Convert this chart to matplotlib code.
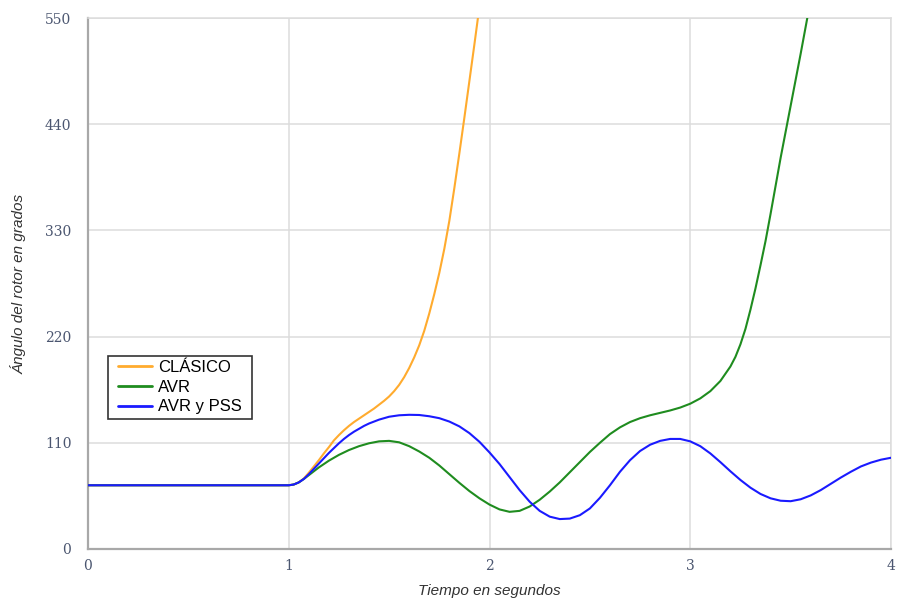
import matplotlib
matplotlib.use("Agg")
import matplotlib.pyplot as plt
from matplotlib.patches import Rectangle

# Rotor angle response (degrees) after a fault at t = 1 s
t_clasico = [0.0, 1.0, 1.025, 1.05, 1.075, 1.10, 1.125, 1.15, 1.175, 1.20,
             1.225, 1.25, 1.275, 1.30, 1.325, 1.35, 1.375, 1.40, 1.425, 1.45,
             1.475, 1.50, 1.525, 1.55, 1.575, 1.60, 1.625, 1.65, 1.675, 1.70,
             1.725, 1.75, 1.775, 1.80, 1.825, 1.85, 1.875, 1.90, 1.925, 1.95]
ang_clasico = [66, 66, 66.8, 69, 73, 79, 85.5, 92, 99, 105.5,
               112.5, 118, 123, 127.5, 131.5, 135, 138.5, 142, 145.5, 149.5,
               153.5, 158, 163.5, 170, 178, 187.5, 198.5, 211, 226, 244,
               264, 286, 311, 340, 374, 410, 447, 485, 523, 562]

t_avr = [0.0, 1.0, 1.025, 1.05, 1.075, 1.10, 1.125, 1.15, 1.175, 1.20,
         1.25, 1.30, 1.35, 1.40, 1.45, 1.50, 1.55, 1.60, 1.65, 1.70,
         1.75, 1.80, 1.85, 1.90, 1.95, 2.00, 2.05, 2.10, 2.15, 2.20,
         2.25, 2.30, 2.35, 2.40, 2.45, 2.50, 2.55, 2.60, 2.65, 2.70,
         2.75, 2.80, 2.85, 2.90, 2.95, 3.00, 3.05, 3.10, 3.15, 3.20,
         3.225, 3.25, 3.275, 3.30, 3.325, 3.35, 3.375, 3.40, 3.425, 3.45,
         3.475, 3.50, 3.525, 3.55, 3.575, 3.60]
ang_avr = [66, 66, 66.8, 69, 72.5, 76.5, 80.5, 84.5, 88, 91.5,
           97.5, 102.5, 106.5, 109.5, 111.5, 112, 110.5, 106.5, 101, 94.5,
           86.5, 77.5, 68.5, 60, 52.5, 46, 41, 38.5, 39.5, 44,
           51, 59.5, 69, 79.5, 90, 100.5, 110, 119, 126, 131.5,
           135.5, 138.5, 141, 143.5, 146.5, 150.5, 156, 163.5, 174, 189,
           199, 212, 228, 248, 270, 294, 319, 347, 376, 405,
           432, 459, 486, 513, 541, 569]

t_pss = [0.0, 1.0, 1.025, 1.05, 1.075, 1.10, 1.125, 1.15, 1.175, 1.20,
         1.225, 1.25, 1.275, 1.30, 1.325, 1.35, 1.375, 1.40, 1.45, 1.50,
         1.55, 1.60, 1.65, 1.70, 1.75, 1.80, 1.85, 1.90, 1.95, 2.00,
         2.05, 2.10, 2.15, 2.20, 2.25, 2.30, 2.35, 2.40, 2.45, 2.50,
         2.55, 2.60, 2.65, 2.70, 2.75, 2.80, 2.85, 2.90, 2.95, 3.00,
         3.05, 3.10, 3.15, 3.20, 3.25, 3.30, 3.35, 3.40, 3.45, 3.50,
         3.55, 3.60, 3.65, 3.70, 3.75, 3.80, 3.85, 3.90, 3.95, 4.00]
ang_pss = [66, 66, 66.8, 69, 72.5, 77.5, 83, 88.5, 94, 99.5,
           104.5, 109.5, 114, 118, 121.5, 124.5, 127.5, 130, 134, 137,
           138.5, 139, 138.8, 137.5, 135.5, 132, 127, 120, 111, 100,
           88, 74.5, 61, 49, 39.5, 33.5, 31, 31.5, 35, 42,
           53, 66, 80, 92, 101.5, 108, 112, 114, 114, 111.5,
           106.5, 99, 90, 80.5, 71.5, 63.5, 57, 52.5, 50, 49.5,
           51.5, 55.5, 61, 67.5, 74, 80, 85.5, 89.5, 92.5, 94.5]

x_ticks = [0, 1, 2, 3, 4]
y_ticks = [0, 110, 220, 330, 440, 550]

series = [
    ("CLÁSICO", t_clasico, ang_clasico, "#ffab2e"),
    ("AVR", t_avr, ang_avr, "#1f8c1f"),
    ("AVR y PSS", t_pss, ang_pss, "#1a1aff"),
]

W, H = 898, 601
fig = plt.figure(figsize=(W / 100, H / 100), dpi=100)
ax = fig.add_axes([88 / W, 1 - 549 / H, (891 - 88) / W, (549 - 18) / H])

for label, tx, ay, color in series:
    ax.plot(tx, ay, color=color, lw=1.5, label=label, solid_capstyle="round",
            solid_joinstyle="round", zorder=3)

ax.set_xlim(0, 4)
ax.set_ylim(0, 550)
ax.set_xticks(x_ticks)
ax.set_yticks(y_ticks)
ax.grid(True, color="#dcdcdc", lw=1.1, zorder=0)
ax.tick_params(axis="y", length=0, pad=12)
ax.tick_params(axis="x", length=0, pad=7)

tick_color = "#4b5670"
for lbl in ax.get_yticklabels() + ax.get_xticklabels():
    lbl.set_fontfamily("DejaVu Serif")
    lbl.set_fontsize(10)
    lbl.set_color(tick_color)

for side in ("top", "right"):
    ax.spines[side].set_color("#dcdcdc")
    ax.spines[side].set_linewidth(1.1)
for side in ("left", "bottom"):
    ax.spines[side].set_color("#a8a8a8")
    ax.spines[side].set_linewidth(1.6)

ax.set_xlabel("Tiempo en segundos", fontstyle="italic", fontsize=11,
              color="#333333", family="Liberation Sans", labelpad=8)
ax.set_ylabel("Ángulo del rotor en grados", fontstyle="italic", fontsize=11,
              color="#333333", family="Liberation Sans", labelpad=13)

# Legend box drawn separately so its padding can differ horizontally and vertically
box = Rectangle((108 / W, 1 - 419 / H), (252 - 108) / W, (419 - 356) / H,
                transform=fig.transFigure, facecolor="white", edgecolor="#333333",
                linewidth=1.2, zorder=4, clip_on=False)
ax.add_patch(box)

leg = ax.legend(loc="upper left",
                bbox_to_anchor=((118 - 88) / 803, (549 - 360) / 531),
                frameon=False, borderpad=0, handlelength=2.05,
                handletextpad=0.36, labelspacing=0.28, borderaxespad=0,
                prop={"family": "Liberation Sans", "size": 12})
leg.set_zorder(5)
for h in leg.get_lines():
    h.set_linewidth(2.0)

fig.savefig("out.png", dpi=100)
